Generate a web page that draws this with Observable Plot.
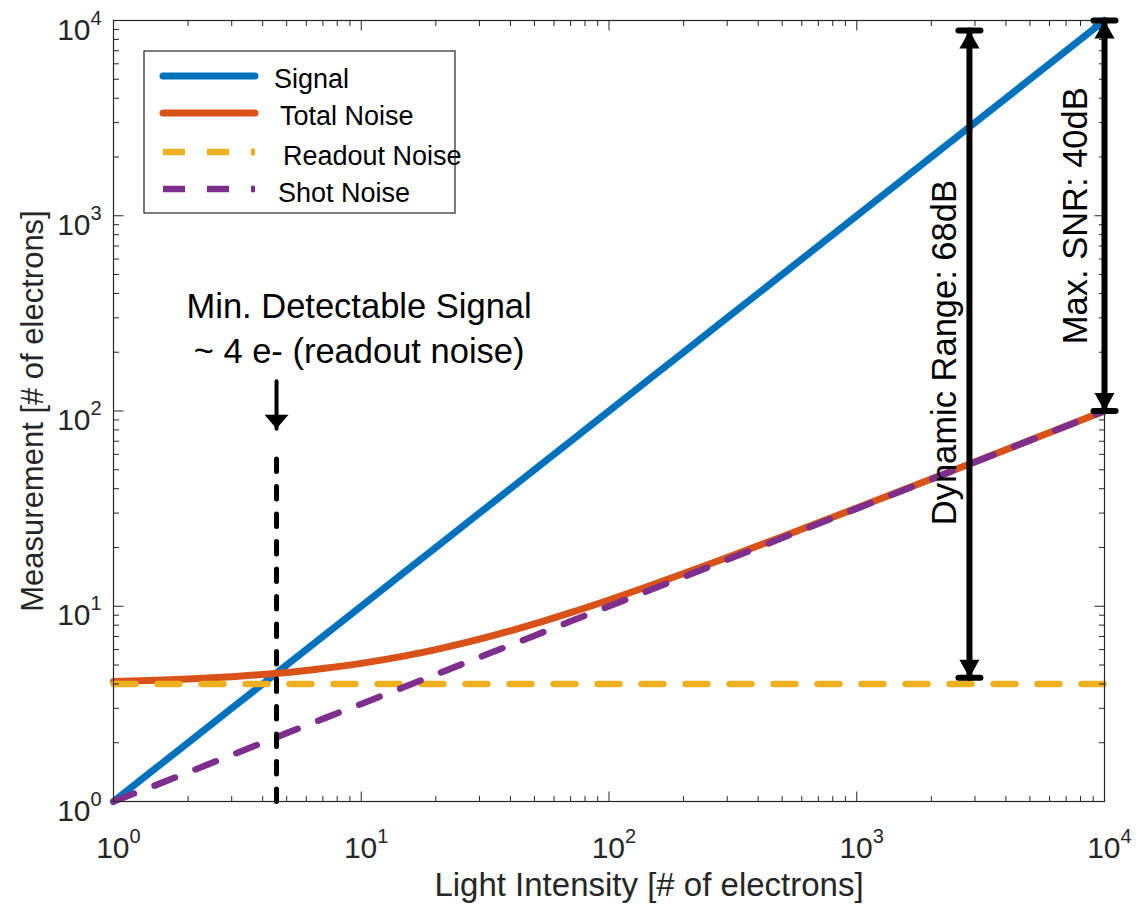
<!DOCTYPE html>
<html>
<head>
<meta charset="utf-8">
<script src="https://cdn.jsdelivr.net/npm/d3@7"></script>
<script src="https://cdn.jsdelivr.net/npm/@observablehq/plot@0.6"></script>
<style>
  html, body { margin: 0; padding: 0; background: #fff; }
  #wrap { position: relative; width: 1142px; height: 911px; font-family: "Liberation Sans", Arial, sans-serif; }
  #wrap svg { position: absolute; left: 0; top: 0; }
</style>
</head>
<body>
<div id="wrap"></div>
<script>
// ---- data ----
const lightIntensity = [1, 1.5, 2, 3, 4, 5, 7, 10, 15, 20, 30, 50, 70, 100, 150, 200, 300, 500, 700, 1000, 2000, 5000, 10000];
const signal        = [1, 1.5, 2, 3, 4, 5, 7, 10, 15, 20, 30, 50, 70, 100, 150, 200, 300, 500, 700, 1000, 2000, 5000, 10000];
const totalNoise    = [4.12, 4.18, 4.24, 4.36, 4.47, 4.58, 4.80, 5.10, 5.57, 6.00, 6.78, 8.12, 9.27, 10.77, 12.88, 14.70, 17.78, 22.72, 26.76, 31.87, 44.90, 70.82, 100.1];
const readoutNoise  = [4, 4, 4, 4, 4, 4, 4, 4, 4, 4, 4, 4, 4, 4, 4, 4, 4, 4, 4, 4, 4, 4, 4];
const shotNoise     = [1, 1.22, 1.41, 1.73, 2, 2.24, 2.65, 3.16, 3.87, 4.47, 5.48, 7.07, 8.37, 10, 12.25, 14.14, 17.32, 22.36, 26.46, 31.62, 44.72, 70.71, 100];

const seriesNames  = ["Signal", "Total Noise", "Readout Noise", "Shot Noise"];
const seriesColors = ["#0072BD", "#D95319", "#EDB120", "#7E2F8E"];

const majorTicks = [1, 10, 100, 1000, 10000];
const minorTicks = [2, 3, 4, 5, 6, 7, 8, 9, 20, 30, 40, 50, 60, 70, 80, 90, 200, 300, 400, 500, 600, 700, 800, 900, 2000, 3000, 4000, 5000, 6000, 7000, 8000, 9000];
const tickBase = "10";
const tickExponents = ["0", "1", "2", "3", "4"];

const xLabel = "Light Intensity [# of electrons]";
const yLabel = "Measurement [# of electrons]";

// annotations
const minSignalX = [4.55];
const minSignalLineY = [1, 59];
const minSignalArrowY = [142, 81];
const minSignalText = "Min. Detectable Signal\n~ 4 e- (readout noise)";
const minSignalTextPos = {x: 9.8, y: 177};

const dynRangeX = 2850;
const dynRangeY = [4.3, 8900];
const dynRangeText = "Dynamic Range: 68dB";
const dynRangeTextPos = {x: 2505, y: 199};

const snrX = 10000;
const snrY = [100, 10000];
const snrText = "Max. SNR: 40dB";
const snrTextPos = {x: 8535, y: 1000};

// ---- build table ----
const seriesValues = [signal, totalNoise, readoutNoise, shotNoise];
const rows = seriesNames.map((name, s) => lightIntensity.map((x, i) => ({series: name, x, y: seriesValues[s][i]})));

const ink = "#262626";
const sym = (f) => ({draw(ctx) { f(ctx); }});
const tickUp   = (l) => sym(c => { c.moveTo(0, 0); c.lineTo(0, -l); });
const tickDown = (l) => sym(c => { c.moveTo(0, 0); c.lineTo(0, l); });
const tickRight= (l) => sym(c => { c.moveTo(0, 0); c.lineTo(l, 0); });
const tickLeft = (l) => sym(c => { c.moveTo(0, 0); c.lineTo(-l, 0); });
const capBar   = sym(c => { c.moveTo(-11, 0); c.lineTo(11, 0); });
const triUp    = sym(c => { c.moveTo(0, 0); c.lineTo(-10, 18); c.lineTo(10, 18); c.closePath(); });
const triDown  = sym(c => { c.moveTo(0, 0); c.lineTo(-10, -18); c.lineTo(10, -18); c.closePath(); });
const triDownWide = sym(c => { c.moveTo(0, 0); c.lineTo(-12, -14); c.lineTo(12, -14); c.closePath(); });

const lineStyle = [
  {strokeWidth: 7, strokeLinecap: "round", curve: "linear"},
  {strokeWidth: 7, strokeLinecap: "round", curve: "monotone-x"},
  {strokeWidth: 6.5, strokeDasharray: "22,22", curve: "linear"},
  {strokeWidth: 6.5, strokeDasharray: "22,22", curve: "linear"}
];

const tickMarks = (ticks, len) => [
  Plot.dot(ticks, {x: d => d, frameAnchor: "bottom", symbol: tickUp(len), fill: "none", stroke: ink, strokeWidth: 1}),
  Plot.dot(ticks, {x: d => d, frameAnchor: "top", symbol: tickDown(len), fill: "none", stroke: ink, strokeWidth: 1}),
  Plot.dot(ticks, {y: d => d, frameAnchor: "left", symbol: tickRight(len), fill: "none", stroke: ink, strokeWidth: 1}),
  Plot.dot(ticks, {y: d => d, frameAnchor: "right", symbol: tickLeft(len), fill: "none", stroke: ink, strokeWidth: 1})
];

const chart = Plot.plot({
  width: 1142,
  height: 911,
  marginTop: 20,
  marginLeft: 113,
  marginRight: 38,
  marginBottom: 110,
  style: {fontFamily: "'Liberation Sans', Arial, sans-serif", color: ink, background: "transparent", overflow: "visible"},
  x: {type: "log", domain: [1, 10000], axis: null},
  y: {type: "log", domain: [1, 10000], axis: null},
  marks: [
    // data lines
    ...rows.map((data, s) => Plot.line(data, {x: "x", y: "y", stroke: seriesColors[s], ...lineStyle[s]})),
    // min detectable signal dashed line
    Plot.line(minSignalLineY, {x: () => minSignalX[0], y: d => d, stroke: "#000", strokeWidth: 5, strokeDasharray: "12.5,15", strokeLinecap: "round"}),
    // frame & ticks
    Plot.frame({stroke: ink, strokeWidth: 1.2}),
    ...tickMarks(majorTicks, 10),
    ...tickMarks(minorTicks, 5.5),
    // tick labels x
    Plot.text(majorTicks, {x: d => d, frameAnchor: "bottom", text: () => tickBase, textAnchor: "end", lineAnchor: "bottom", dx: 16, dy: 56, fontSize: 30, fill: ink}),
    Plot.text(majorTicks, {x: d => d, frameAnchor: "bottom", text: (d, i) => tickExponents[i], textAnchor: "start", lineAnchor: "bottom", dx: 16, dy: 41, fontSize: 20, fill: ink}),
    // tick labels y
    Plot.text(majorTicks, {y: d => d, frameAnchor: "left", text: () => tickBase, textAnchor: "end", lineAnchor: "bottom", dx: -23, dy: 19, fontSize: 30, fill: ink}),
    Plot.text(majorTicks, {y: d => d, frameAnchor: "left", text: (d, i) => tickExponents[i], textAnchor: "start", lineAnchor: "bottom", dx: -23, dy: 4, fontSize: 20, fill: ink}),
    // axis titles
    Plot.text([xLabel], {frameAnchor: "bottom", textAnchor: "middle", lineAnchor: "bottom", dx: 40, dy: 94, fontSize: 33, fill: ink}),
    Plot.text([yLabel], {frameAnchor: "left", textAnchor: "middle", lineAnchor: "bottom", rotate: -90, dx: -71, fontSize: 31, fill: ink}),
    // min detectable signal annotation
    Plot.line(minSignalArrowY, {x: () => minSignalX[0], y: d => d, stroke: "#000", strokeWidth: 4}),
    Plot.dot([minSignalArrowY[1]], {x: () => minSignalX[0], y: d => d, symbol: triDownWide, fill: "#000", stroke: "none"}),
    Plot.text([minSignalText], {x: () => minSignalTextPos.x, y: () => minSignalTextPos.y, textAnchor: "middle", lineAnchor: "bottom", lineHeight: 1.28, fontSize: 34.5, fill: "#000"}),
    // dynamic range
    Plot.line(dynRangeY, {x: () => dynRangeX, y: d => d, stroke: "#000", strokeWidth: 6}),
    Plot.dot([dynRangeY[1]], {x: () => dynRangeX, y: d => d, symbol: triUp, fill: "#000", stroke: "none"}),
    Plot.dot([dynRangeY[0]], {x: () => dynRangeX, y: d => d, symbol: triDown, fill: "#000", stroke: "none"}),
    Plot.dot(dynRangeY, {x: () => dynRangeX, y: d => d, symbol: capBar, fill: "none", stroke: "#000", strokeWidth: 6, strokeLinecap: "round"}),
    Plot.text([dynRangeText], {x: () => dynRangeTextPos.x, y: () => dynRangeTextPos.y, rotate: -90, textAnchor: "middle", lineAnchor: "bottom", fontSize: 34.5, fill: "#000"}),
    // max SNR
    Plot.line(snrY, {x: () => snrX, y: d => d, stroke: "#000", strokeWidth: 6}),
    Plot.dot([snrY[1]], {x: () => snrX, y: d => d, symbol: triUp, fill: "#000", stroke: "none"}),
    Plot.dot([snrY[0]], {x: () => snrX, y: d => d, symbol: triDown, fill: "#000", stroke: "none"}),
    Plot.dot(snrY, {x: () => snrX, y: d => d, symbol: capBar, fill: "none", stroke: "#000", strokeWidth: 6, strokeLinecap: "round"}),
    Plot.text([snrText], {x: () => snrTextPos.x, y: () => snrTextPos.y, rotate: -90, textAnchor: "middle", lineAnchor: "bottom", fontSize: 34.5, fill: "#000"})
  ]
});

const wrap = document.getElementById("wrap");
wrap.appendChild(chart);

// ---- legend (inside plot area, top-left) ----
const legend = d3.select(wrap).append("svg")
  .attr("width", 1142).attr("height", 911)
  .style("pointer-events", "none");
legend.append("rect")
  .attr("x", 144).attr("y", 51).attr("width", 311).attr("height", 162)
  .attr("fill", "#fff").attr("stroke", ink).attr("stroke-width", 1.2);
const legendLineY = [76, 113, 152, 189];
const legendTextX = [274, 280, 283, 278];
const legendTextY = [88, 125, 165, 202];
seriesNames.forEach((name, i) => {
  const ln = legend.append("line")
    .attr("x1", 163).attr("x2", 255)
    .attr("y1", legendLineY[i]).attr("y2", legendLineY[i])
    .attr("stroke", seriesColors[i]).attr("stroke-width", i < 2 ? 7 : 6.5);
  if (i < 2) ln.attr("stroke-linecap", "round");
  else ln.attr("stroke-dasharray", "22,22");
  legend.append("text")
    .attr("x", legendTextX[i]).attr("y", legendTextY[i])
    .attr("font-size", 27).attr("fill", "#000")
    .attr("font-family", "'Liberation Sans', Arial, sans-serif")
    .text(name);
});
</script>
</body>
</html>
